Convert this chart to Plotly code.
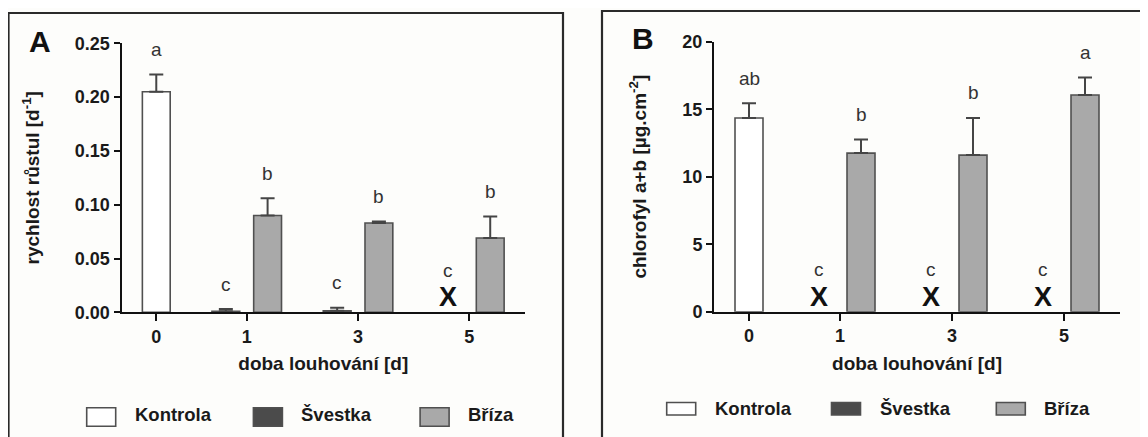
import plotly.graph_objects as go

# ---------------- data ----------------
categories = ["0", "1", "3", "5"]
series_names = ["Kontrola", "Švestka", "Bříza"]

# Panel A – growth rate [d-1]
kontrola_A = [0.205, None, None, None]
kontrola_A_err = [0.016, None, None, None]
svestka_A = [None, 0.001, 0.0015, None]
svestka_A_err = [None, 0.002, 0.0028, None]
svestka_A_dead = [False, False, False, True]
briza_A = [None, 0.090, 0.083, 0.069]
briza_A_err = [None, 0.016, 0.0015, 0.020]
letters_kontrola_A = ["a", "", "", ""]
letters_svestka_A = ["", "c", "c", "c"]
letters_briza_A = ["", "b", "b", "b"]
yticks_A = [0.00, 0.05, 0.10, 0.15, 0.20, 0.25]

# Panel B – chlorophyll a+b [µg.cm-2]
kontrola_B = [14.35, None, None, None]
kontrola_B_err = [1.1, None, None, None]
svestka_B = [None, None, None, None]
svestka_B_err = [None, None, None, None]
svestka_B_dead = [False, True, True, True]
briza_B = [None, 11.75, 11.6, 16.05]
briza_B_err = [None, 1.0, 2.75, 1.3]
letters_kontrola_B = ["ab", "", "", ""]
letters_svestka_B = ["", "c", "c", "c"]
letters_briza_B = ["", "b", "b", "a"]
yticks_B = [0, 5, 10, 15, 20]

# ---------------- styling ----------------
VIEW_W, VIEW_H = 1148, 437
BODY = 8                      # default page margin of the html body
W, H = VIEW_W - BODY, VIEW_H - BODY
FONT = "Arial, Liberation Sans, sans-serif"
fills = ["#ffffff", "#4b4b4b", "#a9a9a9"]
OUTLINE = "#505050"
BG = "#fdfdfb"

BAR_W, IN_GAP, GROUP_GAP, PAD = 1.0, 0.5, 1.5, 0.75


def px(x):
    return (x - BODY) / W


def py(y):
    return 1 - (y - BODY) / H


def group_layout(vals, dead):
    """Prism-like grouping: each category holds only the series present there."""
    pos = [[None] * len(categories) for _ in vals]
    centers = []
    x = PAD
    for i in range(len(categories)):
        members = [s for s in range(len(vals)) if vals[s][i] is not None or dead[s][i]]
        if i > 0:
            x += GROUP_GAP
        start = x
        for k, s in enumerate(members):
            if k > 0:
                x += IN_GAP
            pos[s][i] = x + BAR_W / 2
            x += BAR_W
        centers.append((start + x) / 2)
    return pos, centers, x + PAD


fig = go.Figure()
annotations = []
shapes = []

panels = [
    dict(name="A", xa="x", ya="y",
         vals=[kontrola_A, svestka_A, briza_A],
         errs=[kontrola_A_err, svestka_A_err, briza_A_err],
         dead=[[False] * 4, svestka_A_dead, [False] * 4],
         letters=[letters_kontrola_A, letters_svestka_A, letters_briza_A],
         yticks=yticks_A, tickfmt=".2f",
         ytitle="rychlost růstul [d<sup>-1</sup>]",
         dom_x=(121.5, 525), dom_y=(312.3, 43.3),
         border=(8.5, 13, 563), label=(40, 42), ystand=30,
         leg_left=86.7, leg_step=166.7, leg_y=(407.7, 426.3), leg_text_y=414),
    dict(name="B", xa="x2", ya="y2",
         vals=[kontrola_B, svestka_B, briza_B],
         errs=[kontrola_B_err, svestka_B_err, briza_B_err],
         dead=[[False] * 4, svestka_B_dead, [False] * 4],
         letters=[letters_kontrola_B, letters_svestka_B, letters_briza_B],
         yticks=yticks_B, tickfmt="d",
         ytitle="chlorofyl a+b [µg.cm<sup>-2</sup>]",
         dom_x=(714, 1120), dom_y=(311.7, 41.7),
         border=(602, 11, 1170), label=(643, 38.5), ystand=31,
         leg_left=666.7, leg_step=164.8, leg_y=(402.5, 415), leg_text_y=408),
]

for p in panels:
    pos, centers, total = group_layout(p["vals"], p["dead"])
    ymax = p["yticks"][-1]
    for s, name in enumerate(series_names):
        xs, ys, es = [], [], []
        for i in range(len(categories)):
            v = p["vals"][s][i]
            if v is not None:
                xs.append(pos[s][i])
                ys.append(v)
                es.append(p["errs"][s][i] or 0)
        if xs:
            fig.add_trace(go.Bar(
                x=xs, y=ys, width=BAR_W, name=name, showlegend=False,
                xaxis=p["xa"], yaxis=p["ya"],
                marker=dict(color=fills[s], line=dict(color=OUTLINE, width=1.6)),
                error_y=dict(type="data", array=es, arrayminus=[0] * len(es),
                             symmetric=False, color="#454545", thickness=2, width=7),
            ))
        # letters & X marks
        for i in range(len(categories)):
            v = p["vals"][s][i]
            dead = p["dead"][s][i]
            lt = p["letters"][s][i]
            if dead:
                annotations.append(dict(
                    x=pos[s][i], y=0, xref=p["xa"], yref=p["ya"], text="<b>X</b>",
                    showarrow=False, yanchor="middle", yshift=15,
                    font=dict(family=FONT, size=27, color="#111")))
                if lt:
                    annotations.append(dict(
                        x=pos[s][i], y=0, xref=p["xa"], yref=p["ya"], text=lt,
                        showarrow=False, yanchor="middle", yshift=42,
                        font=dict(family=FONT, size=19, color="#333")))
            elif v is not None and lt:
                top = v + (p["errs"][s][i] or 0)
                annotations.append(dict(
                    x=pos[s][i], y=top, xref=p["xa"], yref=p["ya"], text=lt,
                    showarrow=False, yanchor="middle", yshift=25,
                    font=dict(family=FONT, size=19, color="#333")))

    xkey = "xaxis" if p["xa"] == "x" else "xaxis2"
    ykey = "yaxis" if p["ya"] == "y" else "yaxis2"
    axis_common = dict(showline=True, linecolor="#111", linewidth=2, ticks="outside",
                       tickcolor="#111", tickwidth=2, showgrid=False, zeroline=False,
                       automargin=False,
                       tickfont=dict(family=FONT, size=18, color="#1a1a1a", weight="bold"))
    fig.update_layout(**{
        xkey: dict(axis_common, domain=[px(p["dom_x"][0]), px(p["dom_x"][1])],
                   anchor=p["ya"], range=[0, total], tickmode="array",
                   tickvals=centers, ticktext=categories, ticklen=7,
                   title=dict(text="<b>doba louhování [d]</b>", standoff=11,
                              font=dict(family=FONT, size=19, color="#1a1a1a"))),
        ykey: dict(axis_common, domain=[py(p["dom_y"][0]), py(p["dom_y"][1])],
                   anchor=p["xa"], range=[0, ymax], tickmode="array",
                   tickvals=p["yticks"], tickformat=p["tickfmt"], ticklen=6,
                   title=dict(text="<b>" + p["ytitle"] + "</b>", standoff=p["ystand"],
                              font=dict(family=FONT, size=19, color="#1a1a1a"))),
    })

    # panel frame
    bx0, by0, bx1 = p["border"]
    shapes.append(dict(type="rect", xref="paper", yref="paper",
                       x0=px(bx0), x1=px(bx1), y0=py(VIEW_H + 30), y1=py(by0),
                       line=dict(color="#2a2a2a", width=2.2), fillcolor="rgba(0,0,0,0)",
                       layer="below"))
    # panel label
    annotations.append(dict(x=px(p["label"][0]), y=py(p["label"][1]), xref="paper", yref="paper",
                            text="<b>%s</b>" % p["name"], showarrow=False,
                            xanchor="center", yanchor="middle",
                            font=dict(family=FONT, size=30, color="#111")))
    # legend (drawn boxes + labels)
    for s, name in enumerate(series_names):
        lx = p["leg_left"] + s * p["leg_step"]
        shapes.append(dict(type="rect", xref="paper", yref="paper",
                           x0=px(lx), x1=px(lx + 29), y0=py(p["leg_y"][1]), y1=py(p["leg_y"][0]),
                           line=dict(color=OUTLINE, width=1.6), fillcolor=fills[s]))
        annotations.append(dict(x=px(lx + 46), y=py(p["leg_text_y"]), xref="paper", yref="paper",
                                text="<b>%s</b>" % name, showarrow=False,
                                xanchor="left", yanchor="middle",
                                font=dict(family=FONT, size=18.5, color="#1a1a1a")))

fig.update_layout(
    width=W, height=H, margin=dict(l=0, r=0, t=0, b=0, pad=0, autoexpand=False),
    paper_bgcolor=BG, plot_bgcolor=BG, barmode="overlay",
    showlegend=False, annotations=annotations, shapes=shapes,
    font=dict(family=FONT),
)

fig.write_html("out.html")
